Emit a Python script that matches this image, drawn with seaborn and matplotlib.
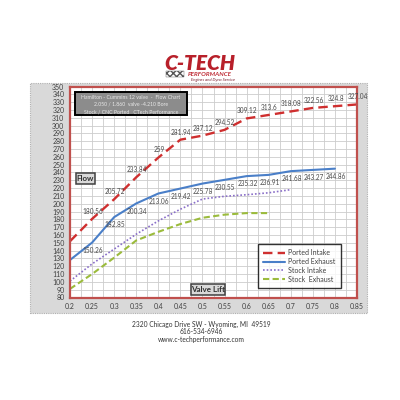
import matplotlib
matplotlib.use("Agg")
import matplotlib.pyplot as plt
from matplotlib.patches import Rectangle
from matplotlib.ticker import MultipleLocator
from matplotlib.lines import Line2D
import seaborn as sns

# valve lift (inches) and flow (cfm)
lift = [0.2, 0.25, 0.3, 0.35, 0.4, 0.45, 0.5, 0.55, 0.6, 0.65, 0.7, 0.75, 0.8, 0.85]
lift_labels = ["0.2", "0.25", "0.3", "0.35", "0.4", "0.45", "0.5", "0.55", "0.6",
               "0.65", "0.7", "0.75", "0.8", "0.85"]
ported_intake = [152, 180.56, 205.72, 233.84, 259, 281.94, 287.12, 294.52, 309.12,
                 313.6, 318.08, 322.56, 324.8, 327.04]
ported_exhaust = [128, 150.26, 182.85, 200.34, 213.06, 219.42, 225.78, 230.55, 235.32,
                  236.91, 241.68, 243.27, 244.86]
stock_intake = [101, 123, 142, 161, 178, 193, 206, 209.5, 211.5, 214, 218]
stock_exhaust = [91, 110, 131, 153, 164, 174, 182, 186, 188, 188]

series = [
    ("Ported Intake", ported_intake, "#cf2f2f", (0, (4, 2.2)), 1.7),
    ("Ported Exhaust", ported_exhaust, "#4a7fc8", "-", 1.5),
    ("Stock Intake", stock_intake, "#8a6fc8", (0, (1, 1.2)), 1.2),
    ("Stock  Exhaust", stock_exhaust, "#9bbb3c", (0, (3, 1.6)), 1.5),
]

FONT = ["Lato", "DejaVu Sans"]
sns.set_style("white")
plt.rcParams["font.family"] = FONT


def fx(x):
    return x / 400


def fy(y):
    return 1 - y / 400


def fig_box(fig, x0, y0, x1, y1, **kw):
    rect = Rectangle((fx(x0), fy(y1)), fx(x1) - fx(x0), fy(y0) - fy(y1),
                     transform=fig.transFigure, **kw)
    fig.add_artist(rect)
    return rect


fig = plt.figure(figsize=(4, 4), dpi=100)

# grey chart area behind the plot
fig_box(fig, 29.5, 83.3, 366.7, 313.3, facecolor="#d9d9d9", edgecolor="#b0b0b0",
        linestyle=(0, (1, 1)), linewidth=0.8, zorder=-1)

ax = fig.add_axes([fx(70), fy(297.5), fx(357) - fx(70), fy(86.5) - fy(297.5)])
ax.set_facecolor("white")

for name, vals, color, ls, lw in series:
    sns.lineplot(x=lift[:len(vals)], y=vals, ax=ax, color=color, linestyle=ls,
                 linewidth=lw, label=name, legend=False)

# data labels: above the ported intake, below the ported exhaust
for x, v in zip(lift[1:], ported_intake[1:]):
    ax.annotate(f"{v:g}", (x, v), xytext=(0.5, 5.5), textcoords="offset points",
                ha="center", va="center", fontsize=4.7, color="#4a4a4a")
for x, v in zip(lift[1:], ported_exhaust[1:]):
    ax.annotate(f"{v:g}", (x, v), xytext=(0.5, -5.5), textcoords="offset points",
                ha="center", va="center", fontsize=4.7, color="#4a4a4a")

ax.set_xlim(0.2, 0.85)
ax.set_ylim(80, 350)
ax.set_xticks(lift)
ax.set_xticklabels(lift_labels)
ax.xaxis.set_minor_locator(MultipleLocator(0.025))
ax.yaxis.set_major_locator(MultipleLocator(10))
ax.grid(True, which="both", color="#cccccc", linewidth=0.6)
ax.tick_params(axis="both", length=0, labelsize=5, labelcolor="#404040", pad=4)
ax.set_xlabel("")
ax.set_ylabel("")
for s in ax.spines.values():
    s.set_visible(True)
    s.set_color("#c0504d")
    s.set_linewidth(1.6)

handles = [Line2D([], [], color=c, linestyle=ls, linewidth=lw) for _, _, c, ls, lw in series]
leg = ax.legend(handles, [s[0] for s in series], loc="lower left",
                bbox_to_anchor=(0.655, 0.046), fontsize=5, frameon=True, fancybox=False,
                handlelength=3.2, handletextpad=0.4, borderpad=0.75, labelspacing=0.25,
                borderaxespad=0)
leg.get_frame().set_edgecolor("black")
leg.get_frame().set_linewidth(1.0)
for t in leg.get_texts():
    t.set_color("#404040")

# title box
fig_box(fig, 75, 92, 187, 115, facecolor="#8c8c8c", edgecolor="black", linewidth=1.4, zorder=3)
title_lines = ["Hamilton - Cummins 12 valve  -  Flow Chart",
               "2.050 / 1.860  valve -4.210 Bore",
               "Stock / CNC Ported   CTech Performance"]
for i, line in enumerate(title_lines):
    fig.text(fx(131), fy(97.5 + i * 7), line, ha="center", va="center", fontsize=3.7,
             color="#e8e8e8", zorder=4)

# axis name boxes
fig_box(fig, 76, 173, 94.5, 183.5, facecolor="#d9d9d9", edgecolor="#404040", linewidth=1.1, zorder=3)
fig.text(fx(85.2), fy(178.3), "Flow", ha="center", va="center", fontsize=5.8,
         fontweight="bold", color="#303030", zorder=4)
fig_box(fig, 191, 284, 224.5, 295, facecolor="#d9d9d9", edgecolor="#404040", linewidth=1.1, zorder=3)
fig.text(fx(207.7), fy(289.5), "Valve Lift", ha="center", va="center", fontsize=5.8,
         fontweight="bold", color="#303030", zorder=4)

# logo
fig.text(fx(200), fy(63.5), "C-TECH", ha="center", va="center", fontsize=15,
         fontweight="heavy", style="italic", color="#b8202a")
fig_box(fig, 166, 71.5, 184, 76.5, facecolor="white", edgecolor="#555555", hatch="xxxxx",
        linewidth=0.3)
fig.text(fx(210), fy(74), "PERFORMANCE", ha="center", va="center", fontsize=4.5,
         fontweight="bold", style="italic", color="#c0303a")
fig.text(fx(213), fy(80), "Engines and Dyno Service", ha="center", va="center",
         fontsize=3, style="italic", color="#7a2030")

# footer
footer = ["2320 Chicago Drive SW - Wyoming, MI  49519", "616-534-6946",
          "www.c-techperformance.com"]
for i, line in enumerate(footer):
    fig.text(fx(201), fy(324.5 + i * 7.5), line, ha="center", va="center", fontsize=4.8,
             color="#333333")

fig.savefig("out.png", dpi=100)
